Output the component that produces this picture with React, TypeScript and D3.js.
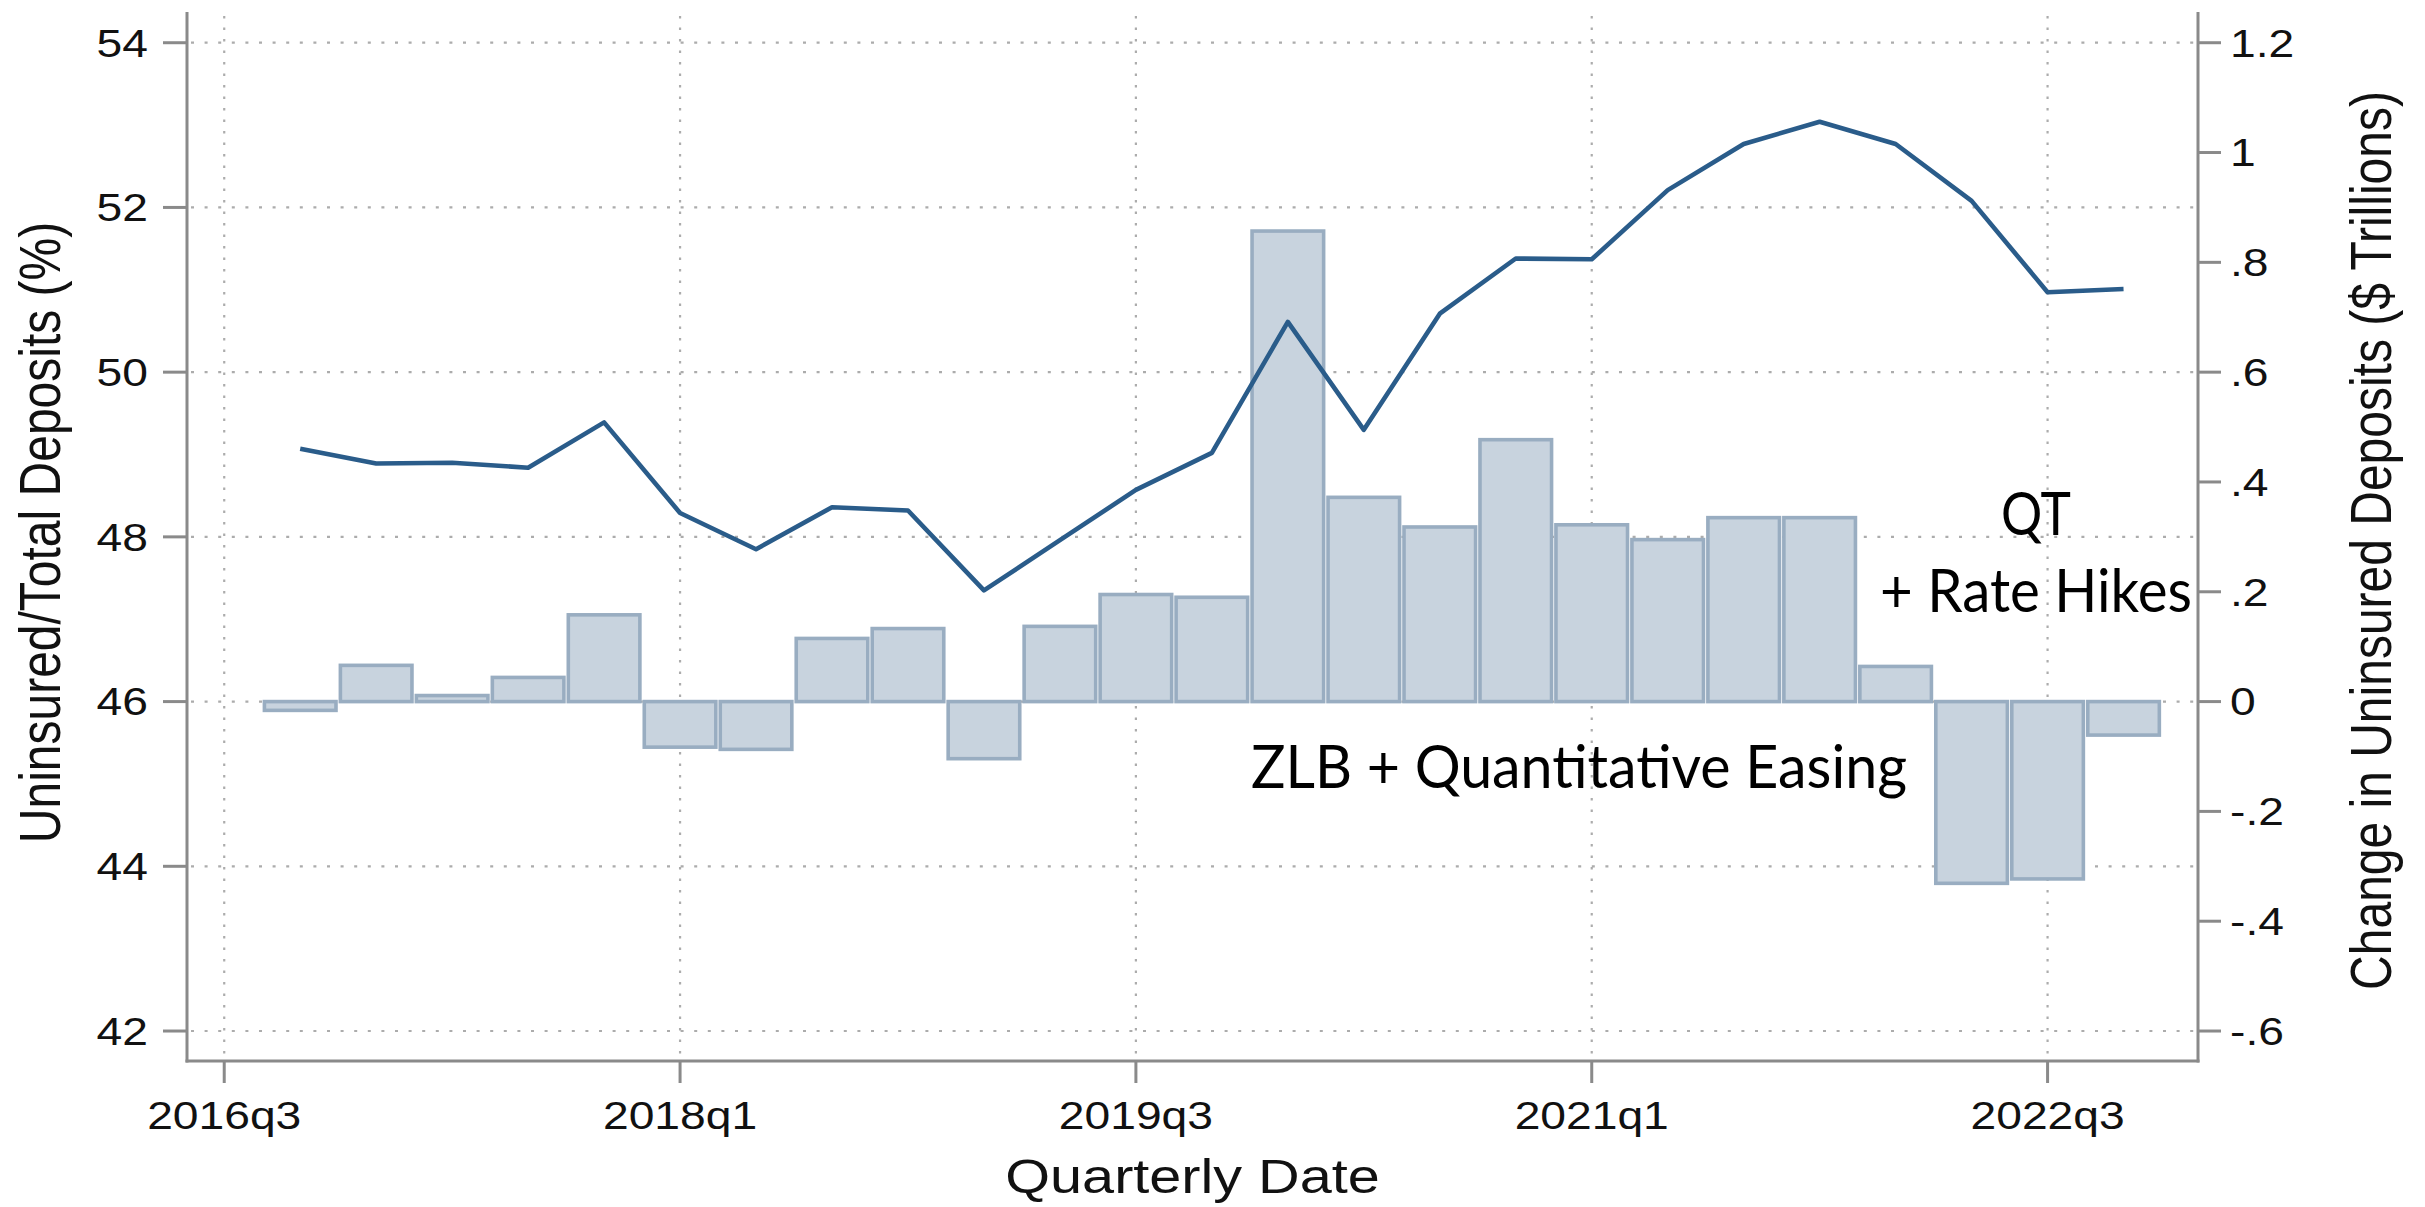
import { useEffect, useRef } from "react"
import * as d3 from "d3"

// quarters shown on the chart (bars + line share them)
const quarters = [
  "2016q4", "2017q1", "2017q2", "2017q3", "2017q4",
  "2018q1", "2018q2", "2018q3", "2018q4",
  "2019q1", "2019q2", "2019q3", "2019q4",
  "2020q1", "2020q2", "2020q3", "2020q4",
  "2021q1", "2021q2", "2021q3", "2021q4",
  "2022q1", "2022q2", "2022q3", "2022q4",
]

// left axis: uninsured / total deposits (%)
const uninsuredShare = [
  49.07, 48.89, 48.9, 48.84, 49.39,
  48.29, 47.85, 48.36, 48.32,
  47.35, 47.96, 48.57, 49.02,
  50.61, 49.3, 50.71, 51.38,
  51.37, 52.21, 52.77, 53.04,
  52.77, 52.08, 50.97, 51.01,
]

// right axis: change in uninsured deposits ($ trillions)
const uninsuredChange = [
  -0.016, 0.066, 0.011, 0.044, 0.158,
  -0.083, -0.087, 0.115, 0.133,
  -0.104, 0.137, 0.195, 0.19,
  0.857, 0.372, 0.318, 0.477,
  0.322, 0.295, 0.335, 0.335,
  0.064, -0.331, -0.323, -0.061,
]

const xTickLabels = ["2016q3", "2018q1", "2019q3", "2021q1", "2022q3"]
const leftTicks = [42, 44, 46, 48, 50, 52, 54]
const rightTicks = [-0.6, -0.4, -0.2, 0, 0.2, 0.4, 0.6, 0.8, 1, 1.2]
const rightTickLabels = ["-.6", "-.4", "-.2", "0", ".2", ".4", ".6", ".8", "1", "1.2"]

// quarter label -> number of quarters since 2016q3
const qIndex = (s: string) => (+s.slice(0, 4) - 2016) * 4 + (+s.slice(5) - 3)

export default function App() {
  const svgRef = useRef<SVGSVGElement>(null)

  useEffect(() => {
    if (!svgRef.current) return
    const svg = d3.select(svgRef.current)
    svg.selectAll("*").remove()

    const width = 2425
    const height = 1207
    const plot = { left: 187, right: 2198, top: 12, bottom: 1061 }
    const axisFont = "'Liberation Sans', Arial, sans-serif"
    const stretch = 1.2
    const gridColor = "#acacac"
    const axisColor = "#8a8a8a"

    svg.attr("width", width).attr("height", height).attr("viewBox", [0, 0, width, height])

    const x = d3.scaleLinear().domain([-0.49, 25.98]).range([plot.left, plot.right])
    const yLeft = d3.scaleLinear().domain([41.636, 54.373]).range([plot.bottom, plot.top])
    // right axis is tied to the left one: 0 <-> 46, 1.2 <-> 54
    const yRight = d3
      .scaleLinear()
      .domain([(41.636 - 46) * 0.15, (54.373 - 46) * 0.15])
      .range([plot.bottom, plot.top])
    const step = x(1) - x(0)

    svg.append("rect").attr("width", width).attr("height", height).attr("fill", "#fff")

    // grid
    svg
      .selectAll("line.hgrid")
      .data(leftTicks)
      .enter()
      .append("line")
      .attr("x1", plot.left + 4)
      .attr("x2", plot.right)
      .attr("y1", (d) => yLeft(d))
      .attr("y2", (d) => yLeft(d))
      .attr("stroke", gridColor)
      .attr("stroke-width", 2.2)
      .attr("stroke-dasharray", "3 10.6")

    svg
      .selectAll("line.vgrid")
      .data(xTickLabels)
      .enter()
      .append("line")
      .attr("x1", (d) => x(qIndex(d)))
      .attr("x2", (d) => x(qIndex(d)))
      .attr("y1", plot.top + 4)
      .attr("y2", plot.bottom)
      .attr("stroke", gridColor)
      .attr("stroke-width", 2.2)
      .attr("stroke-dasharray", "2.5 9")

    // bars
    svg
      .selectAll("rect.bar")
      .data(uninsuredChange)
      .enter()
      .append("rect")
      .attr("x", (d, i) => x(qIndex(quarters[i])) - step / 2 + 2.2)
      .attr("width", step - 4.4)
      .attr("y", (d) => yRight(Math.max(0, d)))
      .attr("height", (d) => Math.abs(yRight(d) - yRight(0)))
      .attr("fill", "#c8d3de")
      .attr("stroke", "#99adc1")
      .attr("stroke-width", 3.6)

    // line
    const line = d3
      .line<number>()
      .x((d, i) => x(qIndex(quarters[i])))
      .y((d) => yLeft(d))
    svg
      .append("path")
      .datum(uninsuredShare)
      .attr("d", line)
      .attr("fill", "none")
      .attr("stroke", "#2a5c8a")
      .attr("stroke-width", 4.6)
      .attr("stroke-linejoin", "round")

    // axes
    const axes = svg.append("g").attr("stroke", axisColor).attr("stroke-width", 3)
    axes.append("line").attr("x1", plot.left).attr("x2", plot.left).attr("y1", plot.top).attr("y2", plot.bottom + 1.5)
    axes.append("line").attr("x1", plot.right).attr("x2", plot.right).attr("y1", plot.top).attr("y2", plot.bottom + 1.5)
    axes.append("line").attr("x1", plot.left - 1.5).attr("x2", plot.right + 1.5).attr("y1", plot.bottom).attr("y2", plot.bottom)

    axes
      .selectAll("line.lt")
      .data(leftTicks)
      .enter()
      .append("line")
      .attr("x1", plot.left - 24)
      .attr("x2", plot.left)
      .attr("y1", (d) => yLeft(d))
      .attr("y2", (d) => yLeft(d))
    axes
      .selectAll("line.rt")
      .data(rightTicks)
      .enter()
      .append("line")
      .attr("x1", plot.right)
      .attr("x2", plot.right + 23)
      .attr("y1", (d) => yRight(d))
      .attr("y2", (d) => yRight(d))
    axes
      .selectAll("line.bt")
      .data(xTickLabels)
      .enter()
      .append("line")
      .attr("x1", (d) => x(qIndex(d)))
      .attr("x2", (d) => x(qIndex(d)))
      .attr("y1", plot.bottom)
      .attr("y2", plot.bottom + 22)

    const tickSize = 38.5
    const half = tickSize * 0.716 / 2

    svg
      .selectAll("text.lt")
      .data(leftTicks)
      .enter()
      .append("text")
      .attr("transform", (d) => `translate(148,${yLeft(d) + half}) scale(${stretch},1)`)
      .attr("text-anchor", "end")
      .attr("font-family", axisFont)
      .attr("font-size", tickSize)
      .attr("fill", "#111")
      .text((d) => d)

    svg
      .selectAll("text.rt")
      .data(rightTicks)
      .enter()
      .append("text")
      .attr("transform", (d) => `translate(2230,${yRight(d) + half}) scale(${stretch},1)`)
      .attr("text-anchor", "start")
      .attr("font-family", axisFont)
      .attr("font-size", tickSize)
      .attr("fill", "#111")
      .text((d, i) => rightTickLabels[i])

    svg
      .selectAll("text.bt")
      .data(xTickLabels)
      .enter()
      .append("text")
      .attr("transform", (d) => `translate(${x(qIndex(d))},1129) scale(${stretch},1)`)
      .attr("text-anchor", "middle")
      .attr("font-family", axisFont)
      .attr("font-size", tickSize)
      .attr("fill", "#111")
      .text((d) => d)

    // axis titles
    const midY = (plot.top + plot.bottom) / 2
    svg
      .append("text")
      .attr("transform", `translate(${(plot.left + plot.right) / 2},1193) scale(${stretch},1)`)
      .attr("text-anchor", "middle")
      .attr("font-family", axisFont)
      .attr("font-size", 48)
      .attr("fill", "#111")
      .text("Quarterly Date")

    svg
      .append("text")
      .attr("transform", `translate(60,${midY - 4}) scale(${stretch},1) rotate(-90)`)
      .attr("text-anchor", "middle")
      .attr("font-family", axisFont)
      .attr("font-size", 48)
      .attr("fill", "#111")
      .text("Uninsured/Total Deposits (%)")

    svg
      .append("text")
      .attr("transform", `translate(2391,${midY + 4}) scale(${stretch},1) rotate(-90)`)
      .attr("text-anchor", "middle")
      .attr("font-family", axisFont)
      .attr("font-size", 48)
      .attr("fill", "#111")
      .text("Change in Uninsured Deposits ($ Trillions)")

    // annotations
    const noteFont = "Lato, 'Open Sans', sans-serif"
    svg
      .append("text")
      .attr("x", 1251)
      .attr("y", 788)
      .attr("font-family", noteFont)
      .attr("font-size", 60)
      .attr("textLength", 656)
      .attr("lengthAdjust", "spacingAndGlyphs")
      .attr("fill", "#000")
      .text("ZLB + Quantitative Easing")
    svg
      .append("text")
      .attr("x", 2036)
      .attr("y", 535)
      .attr("text-anchor", "middle")
      .attr("font-family", noteFont)
      .attr("font-size", 60)
      .attr("textLength", 70)
      .attr("lengthAdjust", "spacingAndGlyphs")
      .attr("fill", "#000")
      .text("QT")
    svg
      .append("text")
      .attr("x", 1880)
      .attr("y", 612)
      .attr("font-family", noteFont)
      .attr("font-size", 60)
      .attr("textLength", 312)
      .attr("lengthAdjust", "spacingAndGlyphs")
      .attr("fill", "#000")
      .text("+ Rate Hikes")
  }, [])

  return (
    <div style={{ position: "absolute", left: 0, top: 0 }}>
      <svg ref={svgRef} style={{ display: "block" }} />
    </div>
  )
}
